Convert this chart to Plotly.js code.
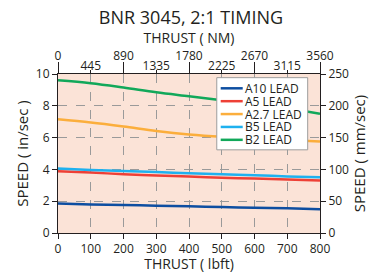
<!DOCTYPE html>
<html><head><meta charset="utf-8">
<script src="https://cdn.plot.ly/plotly-3.0.1.min.js"></script>
<style>html,body{margin:0;padding:0;background:#fff}#chart{width:382px;height:273px}</style>
</head><body><div id="chart"></div>
<script>
const thrustLbf = [0, 100, 200, 300, 400, 500, 600, 700, 800];
const a10 = [1.85, 1.80, 1.76, 1.72, 1.68, 1.63, 1.59, 1.55, 1.50];
const a5 = [3.88, 3.80, 3.70, 3.62, 3.55, 3.48, 3.42, 3.36, 3.30];
const a27 = [7.15, 6.95, 6.70, 6.42, 6.20, 6.05, 5.95, 5.85, 5.75];
const b5 = [4.05, 3.97, 3.90, 3.83, 3.76, 3.70, 3.63, 3.56, 3.50];
const b2 = [9.60, 9.42, 9.15, 8.85, 8.60, 8.35, 8.10, 7.85, 7.50];
const seriesNames = ['A10 LEAD', 'A5 LEAD', 'A2.7 LEAD', 'B5 LEAD', 'B2 LEAD'];
const seriesColors = ['#0d4ea1', '#ee4036', '#fbae3c', '#1eb1ef', '#11a85a'];
const topTicksMajor = [0, 890, 1780, 2670, 3560];
const topTicksMinor = [445, 1335, 2225, 3115];
const leftTicks = [0, 2, 4, 6, 8, 10];
const rightTicks = [0, 50, 100, 150, 200, 250];

const F = 'Open Sans, Noto Sans, sans-serif';
const txt = '#231f20';
const data = [a10, a5, a27, b5, b2].map((ys, i) => ({
  x: thrustLbf, y: ys, name: seriesNames[i], type: 'scatter', mode: 'lines',
  line: {color: seriesColors[i], width: 2.5, shape: 'spline'}, hoverinfo: 'skip', showlegend: false
}));
data.push({x: [], y: [], xaxis: 'x2', yaxis: 'y2', showlegend: false, hoverinfo: 'skip'});
data.push({x: [], y: [], xaxis: 'x3', yaxis: 'y2', showlegend: false, hoverinfo: 'skip'});

// compact legend box (Plotly's own legend rows are too tall for this chart)
const lg = {x0: 0.606, x1: 0.953, y0: 0.523, y1: 0.977, lineX0: 0.621, lineX1: 0.705, textX: 0.708, rowY0: 0.910, rowStep: 0.081};
const shapes = [{type: 'rect', xref: 'paper', yref: 'paper', x0: lg.x0, x1: lg.x1, y0: lg.y0, y1: lg.y1,
  fillcolor: '#ffffff', line: {color: '#9d9d9d', width: 1}, layer: 'above'}];
const annotations = [];
seriesNames.forEach((n, i) => {
  const yy = lg.rowY0 - i * lg.rowStep;
  shapes.push({type: 'line', xref: 'paper', yref: 'paper', x0: lg.lineX0, x1: lg.lineX1, y0: yy, y1: yy,
    line: {color: seriesColors[i], width: 2.5}, layer: 'above'});
  annotations.push({xref: 'paper', yref: 'paper', x: lg.textX, y: yy, xanchor: 'left', yanchor: 'middle',
    text: n, showarrow: false, font: {family: F, size: 12, color: txt}});
});

const axBase = {showline: true, linecolor: '#231f20', linewidth: 1, ticks: 'outside',
  tickcolor: '#231f20', tickfont: {family: F, size: 12, color: txt}, zeroline: false, fixedrange: true};
const layout = {
  width: 382, height: 273,
  margin: {l: 58, r: 62, t: 74, b: 40},
  paper_bgcolor: '#fff', plot_bgcolor: '#fbe3d7',
  font: {family: F, color: txt},
  title: {text: 'BNR 3045, 2:1 TIMING', font: {family: F, size: 18, color: txt}, x: 0.5, xanchor: 'center',
    yref: 'container', y: 0.936, yanchor: 'middle'},
  xaxis: Object.assign({}, axBase, {range: [0, 800], tickvals: thrustLbf, ticklen: 5,
    showgrid: true, gridcolor: '#9a9a9a', griddash: 'dash', gridwidth: 1,
    title: {text: 'THRUST ( lbft)', font: {family: F, size: 14, color: txt}, standoff: 0}}),
  yaxis: Object.assign({}, axBase, {range: [0, 10], tickvals: leftTicks, ticklen: 5,
    showgrid: true, gridcolor: '#9a9a9a', griddash: 'dash', gridwidth: 1,
    title: {text: 'SPEED ( in/sec )', font: {family: F, size: 15, color: txt}, standoff: 3}}),
  xaxis2: Object.assign({}, axBase, {overlaying: 'x', side: 'top', range: [0, 3560], tickvals: topTicksMajor,
    ticklen: 11, ticklabelstandoff: -3, showgrid: false, anchor: 'y2',
    title: {text: 'THRUST ( NM)', font: {family: F, size: 14, color: txt}, standoff: 0}}),
  xaxis3: Object.assign({}, axBase, {overlaying: 'x', side: 'top', range: [0, 3560], tickvals: topTicksMinor,
    ticklen: 3, ticklabelstandoff: -5, showgrid: false, anchor: 'y2', showline: false}),
  yaxis2: Object.assign({}, axBase, {overlaying: 'y', side: 'right', range: [0, 250], tickvals: rightTicks,
    ticklen: 5, showgrid: false, anchor: 'x',
    title: {text: 'SPEED ( mm/sec)', font: {family: F, size: 15, color: txt}, standoff: 1}}),
  shapes: shapes,
  annotations: annotations,
  showlegend: false
};
Plotly.newPlot('chart', data, layout, {staticPlot: true, displayModeBar: false});
</script></body></html>
